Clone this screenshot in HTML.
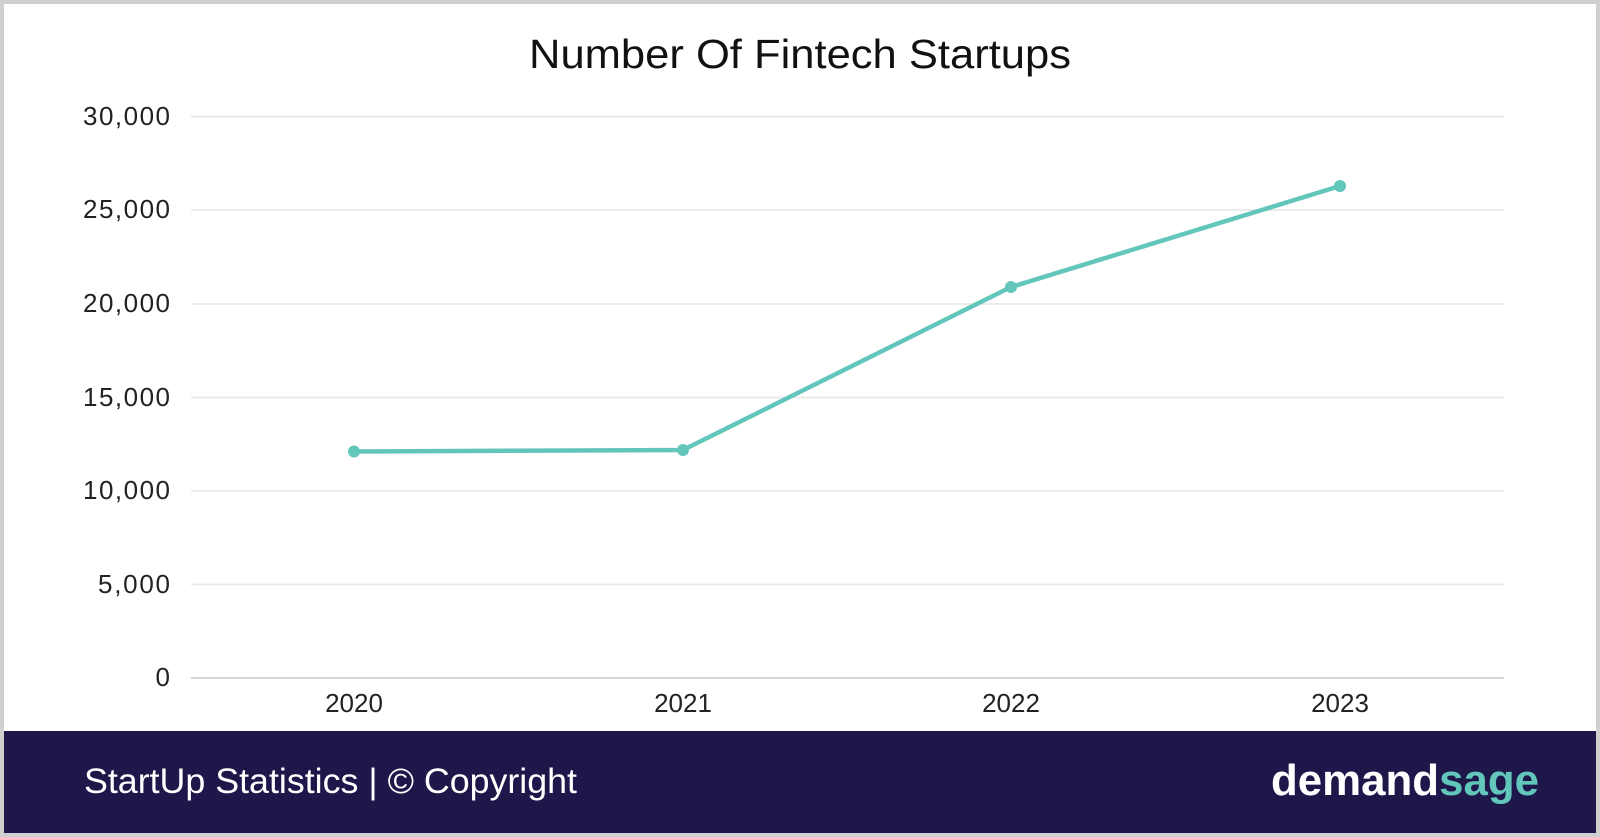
<!DOCTYPE html>
<html><head><meta charset="utf-8"><style>
html,body{margin:0;padding:0;background:#fff}
body{width:1600px;height:837px;position:relative;overflow:hidden;font-family:"Liberation Sans",sans-serif}
</style></head><body>
<svg width="1600" height="837" viewBox="0 0 1600 837" xmlns="http://www.w3.org/2000/svg" style="position:absolute;left:0;top:0">
<rect x="0" y="0" width="1600" height="837" fill="#cfcfcf"/>
<rect x="4" y="4" width="1592" height="728" fill="#fff"/>
<rect x="4" y="731" width="1592" height="102" fill="#1e174a"/>
<text x="800" y="68" text-anchor="middle" font-size="41" fill="#111" textLength="542" lengthAdjust="spacingAndGlyphs">Number Of Fintech Startups</text>
<g stroke="#e6e6e6" stroke-width="1.5">
<line x1="191" x2="1504" y1="116.5" y2="116.5"/>
<line x1="191" x2="1504" y1="210" y2="210"/>
<line x1="191" x2="1504" y1="304" y2="304"/>
<line x1="191" x2="1504" y1="397.5" y2="397.5"/>
<line x1="191" x2="1504" y1="491" y2="491"/>
<line x1="191" x2="1504" y1="584.5" y2="584.5"/>
</g>
<line x1="191" x2="1504" y1="678" y2="678" stroke="#c8c8c8" stroke-width="1.5"/>
<g font-size="26" fill="#222" text-anchor="end" lengthAdjust="spacingAndGlyphs">
<text x="170" y="125" textLength="87">30,000</text>
<text x="170" y="218" textLength="87">25,000</text>
<text x="170" y="312" textLength="87">20,000</text>
<text x="170" y="406" textLength="87">15,000</text>
<text x="170" y="499" textLength="87">10,000</text>
<text x="170" y="593" textLength="72">5,000</text>
<text x="170" y="686">0</text>
</g>
<g font-size="26" fill="#222" text-anchor="middle">
<text x="354" y="712">2020</text>
<text x="683" y="712">2021</text>
<text x="1011" y="712">2022</text>
<text x="1340" y="712">2023</text>
</g>
<polyline points="354,451.5 683,450 1011,287 1340,186" fill="none" stroke="#62c6bb" stroke-width="4.5" stroke-linejoin="round"/>
<g fill="#62c6bb">
<circle cx="354" cy="451.5" r="6"/><circle cx="683" cy="450" r="6"/><circle cx="1011" cy="287" r="6"/><circle cx="1340" cy="186" r="6"/>
</g>
<text x="84" y="793" font-size="35" fill="#fff" textLength="493" lengthAdjust="spacingAndGlyphs">StartUp Statistics | © Copyright</text>
<text x="1539" y="795" font-size="44" font-weight="600" text-anchor="end" fill="#fff" textLength="268" lengthAdjust="spacingAndGlyphs">demand<tspan fill="#62c6bb">sage</tspan></text>
</svg>
</body></html>
